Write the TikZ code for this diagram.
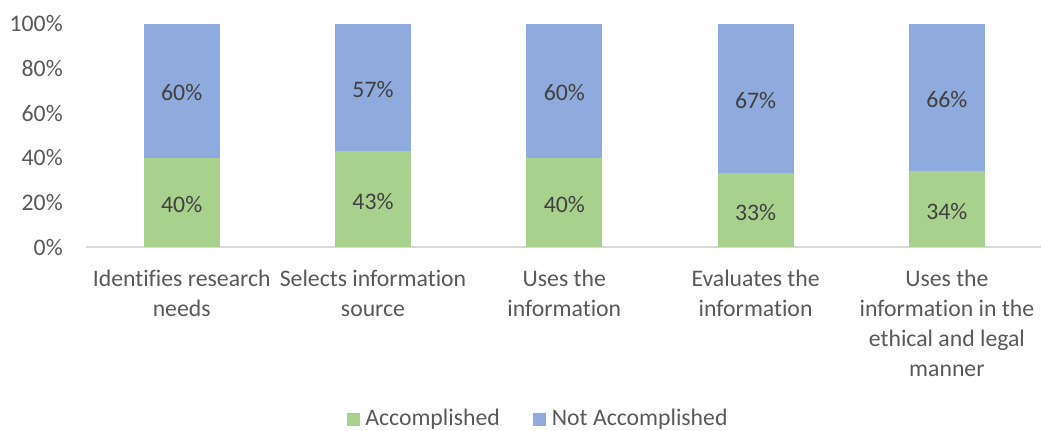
\documentclass[tikz,border=0pt]{standalone}
\usepackage{fontspec}
\setmainfont{Carlito}[Ligatures=CommonOff]
\usetikzlibrary{positioning}

\definecolor{accgreen}{HTML}{A9D18E}
\definecolor{notblue}{HTML}{8FAADC}
\definecolor{axisgray}{HTML}{D9D9D9}
\definecolor{ticktext}{HTML}{595959}
\definecolor{valuetext}{HTML}{404040}

\tikzset{
  chartfont/.style={font=\fontsize{17.8}{22.6}\selectfont},
  ticklabel/.style={chartfont, text=ticktext, anchor=east, inner sep=0pt},
  catlabel/.style={chartfont, text=ticktext, align=center, anchor=north, inner sep=0pt},
  valuelabel/.style={chartfont, text=valuetext, inner sep=0pt, yshift=-1.5pt},
  legendkey/.style={minimum size=9.75pt, inner sep=0pt},
  legendtext/.style={chartfont, text=ticktext, inner sep=0pt},
}

\newcommand{\StackBar}[3]{% x, accomplished, name
  \fill[accgreen] ({#1-\BarWidth/2},\AxisY) rectangle ++ (\BarWidth,{#2*\PerCent});
  \fill[notblue] ({#1-\BarWidth/2},{\AxisY+#2*\PerCent}) rectangle ({#1+\BarWidth/2},{\AxisY+100*\PerCent});
  \node[valuelabel] (#3-acc) at (#1,{\AxisY+#2*\PerCent/2}) {#2\%};
  \pgfmathtruncatemacro{\NotAcc}{100-#2}
  \node[valuelabel] (#3-not) at (#1,{\AxisY+(100+#2)*\PerCent/2}) {\NotAcc\%};
}

\begin{document}
\begin{tikzpicture}[x=0.75pt,y=0.75pt]
  \useasboundingbox (0,0) rectangle (1041,430);
  \pgfmathsetmacro{\AxisY}{183};
  \pgfmathsetmacro{\PerCent}{2.23};
  \pgfmathsetmacro{\BarWidth}{76};
  \pgfmathsetmacro{\AxisLeft}{86};
  %
  \foreach \Tick in {0,20,...,100}
    \node[ticklabel] (tick-\Tick) at (63,{\AxisY+\Tick*\PerCent}) {\Tick\%};
  \coordinate (axis-left) at (\AxisLeft,\AxisY);
  \coordinate (axis-right) at (1041,\AxisY);
  \draw[axisgray, line width=1.5pt] (axis-left) -- (axis-right);
  %
  \StackBar{181.7}{40}{needs}
  \StackBar{373}{43}{source}
  \StackBar{564.3}{40}{uses}
  \StackBar{755.6}{33}{evaluates}
  \StackBar{946.9}{34}{ethical}
  %
  \node[catlabel] (needs-label) at (181.7,160.5) {Identifies research\\needs};
  \node[catlabel] (source-label) at (373,160.5) {Selects information\\source};
  \node[catlabel] (uses-label) at (564.3,160.5) {Uses the\\information};
  \node[catlabel] (evaluates-label) at (755.6,160.5) {Evaluates the\\information};
  \node[catlabel] (ethical-label) at (946.9,160.5) {Uses the\\information in the\\ethical and legal\\manner};
  %
  \node[legendkey, fill=accgreen] (acc-key) at (353,10.5) {};
  \node[legendtext, right=4pt of acc-key] (acc-text) {Accomplished};
  \node[legendkey, fill=notblue] (not-key) at (539.5,10.5) {};
  \node[legendtext, right=4pt of not-key] (not-text) {Not Accomplished};
\end{tikzpicture}
\end{document}
